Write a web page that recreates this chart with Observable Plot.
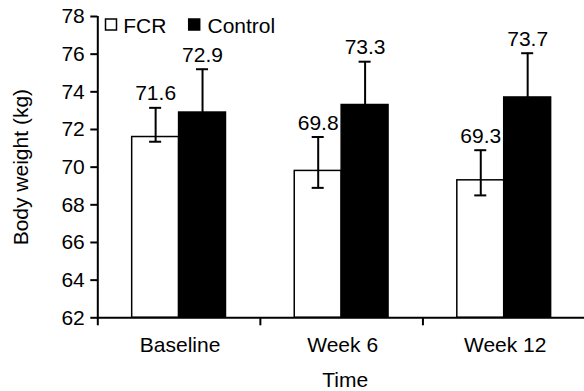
<!DOCTYPE html>
<html><head><meta charset="utf-8">
<script src="https://cdn.jsdelivr.net/npm/d3@7"></script>
<script src="https://cdn.jsdelivr.net/npm/@observablehq/plot@0.6"></script>
<style>body{margin:0;background:#fff;} #chart svg{display:block}</style>
</head><body><div id="chart"></div>
<script>
const times = ["Baseline", "Week 6", "Week 12"];
const groups = ["FCR", "Control"];
const fcrMean = [71.6, 69.8, 69.3];
const controlMean = [72.9, 73.3, 73.7];
const fcrErrHigh = [73.15, 71.6, 70.9];
const fcrErrLow = [71.35, 68.9, 68.5];
const controlErrHigh = [75.2, 75.6, 76.05];
const yTicks = [62, 64, 66, 68, 70, 72, 74, 76, 78];
const groupFill = ["white", "black"];
const xLabel = "Time";
const yLabel = "Body weight (kg)";

// layout (in category units)
const barW = 0.2885, capHalf = 0.037;
const rows = [];
times.forEach((t, i) => {
  rows.push({time: t, group: groups[0], side: -1, i, value: fcrMean[i], hi: fcrErrHigh[i], lo: fcrErrLow[i]});
  rows.push({time: t, group: groups[1], side: 1, i, value: controlMean[i], hi: controlErrHigh[i], lo: 2 * controlMean[i] - controlErrHigh[i]});
});
const bx1 = d => d.i + 0.5 + (d.side < 0 ? -barW : 0);
const bx2 = d => d.i + 0.5 + (d.side < 0 ? 0 : barW);
const bxc = d => d.i + 0.5 + d.side * barW / 2;
const caps = rows.flatMap(d => [{...d, y: d.hi}, {...d, y: d.lo}]);
const FS = 21;

const chart = Plot.plot({
  width: 584, height: 391,
  marginLeft: 97.3, marginRight: 0, marginTop: 16, marginBottom: 73.7,
  style: {fontFamily: "'Liberation Sans', Arial, Helvetica, sans-serif", fontSize: FS + "px", background: "white", color: "black"},
  x: {domain: [0, times.length], range: [97.3, 585]},
  y: {domain: [yTicks[0], yTicks[yTicks.length - 1]]},
  color: {domain: groups, range: groupFill},
  marks: [
    Plot.rect(rows, {x1: bx1, x2: bx2, y1: () => yTicks[0], y2: "value", fill: "group", stroke: "black", strokeWidth: 1.5}),
    Plot.ruleX(rows, {x: bxc, y1: "lo", y2: "hi", stroke: "black", strokeWidth: 2}),
    Plot.ruleY(caps, {y: "y", x1: d => bxc(d) - capHalf, x2: d => bxc(d) + capHalf, stroke: "black", strokeWidth: 2}),
    Plot.text(rows, {x: bxc, y: "hi", text: d => d.value.toFixed(1), lineAnchor: "bottom", dy: -7.5, fontSize: FS, fill: "black"}),
    Plot.ruleX([0], {stroke: "black", strokeWidth: 2}),
    Plot.ruleY([yTicks[0]], {stroke: "black", strokeWidth: 2}),
    Plot.axisY({ticks: yTicks, tickSize: 7, tickPadding: 6, fontSize: FS, label: null, strokeWidth: 2}),
    Plot.axisX({ticks: d3.range(times.length + 1), tickSize: 8, tickFormat: () => "", label: null, strokeWidth: 2}),
    Plot.text(times, {x: (d, i) => i + 0.5, frameAnchor: "bottom", lineAnchor: "top", dy: 19.4, dx: 1, fontSize: FS, fill: "black"}),
    Plot.text([xLabel], {frameAnchor: "bottom", lineAnchor: "top", dy: 54, dx: 4, fontSize: FS, fill: "black"}),
    Plot.text([yLabel], {frameAnchor: "left", rotate: -90, dx: -76.5, textAnchor: "middle", lineAnchor: "middle", fontSize: FS, fill: "black"}),
    // legend
    Plot.dot([groups[0]], {frameAnchor: "top-left", dx: 13.2, dy: 8.1, symbol: "square", r: 6.2, fill: groupFill[0], stroke: "black", strokeWidth: 1.5}),
    Plot.text([groups[0]], {frameAnchor: "top-left", dx: 25.4, dy: 9.5, textAnchor: "start", lineAnchor: "middle", fontSize: FS, fill: "black"}),
    Plot.dot([groups[1]], {frameAnchor: "top-left", dx: 96.4, dy: 8.1, symbol: "square", r: 6.2, fill: groupFill[1], stroke: "black", strokeWidth: 1.5}),
    Plot.text([groups[1]], {frameAnchor: "top-left", dx: 109.7, dy: 9.5, textAnchor: "start", lineAnchor: "middle", fontSize: FS, fill: "black"})
  ]
});
document.getElementById("chart").appendChild(chart);
</script>
</body></html>
